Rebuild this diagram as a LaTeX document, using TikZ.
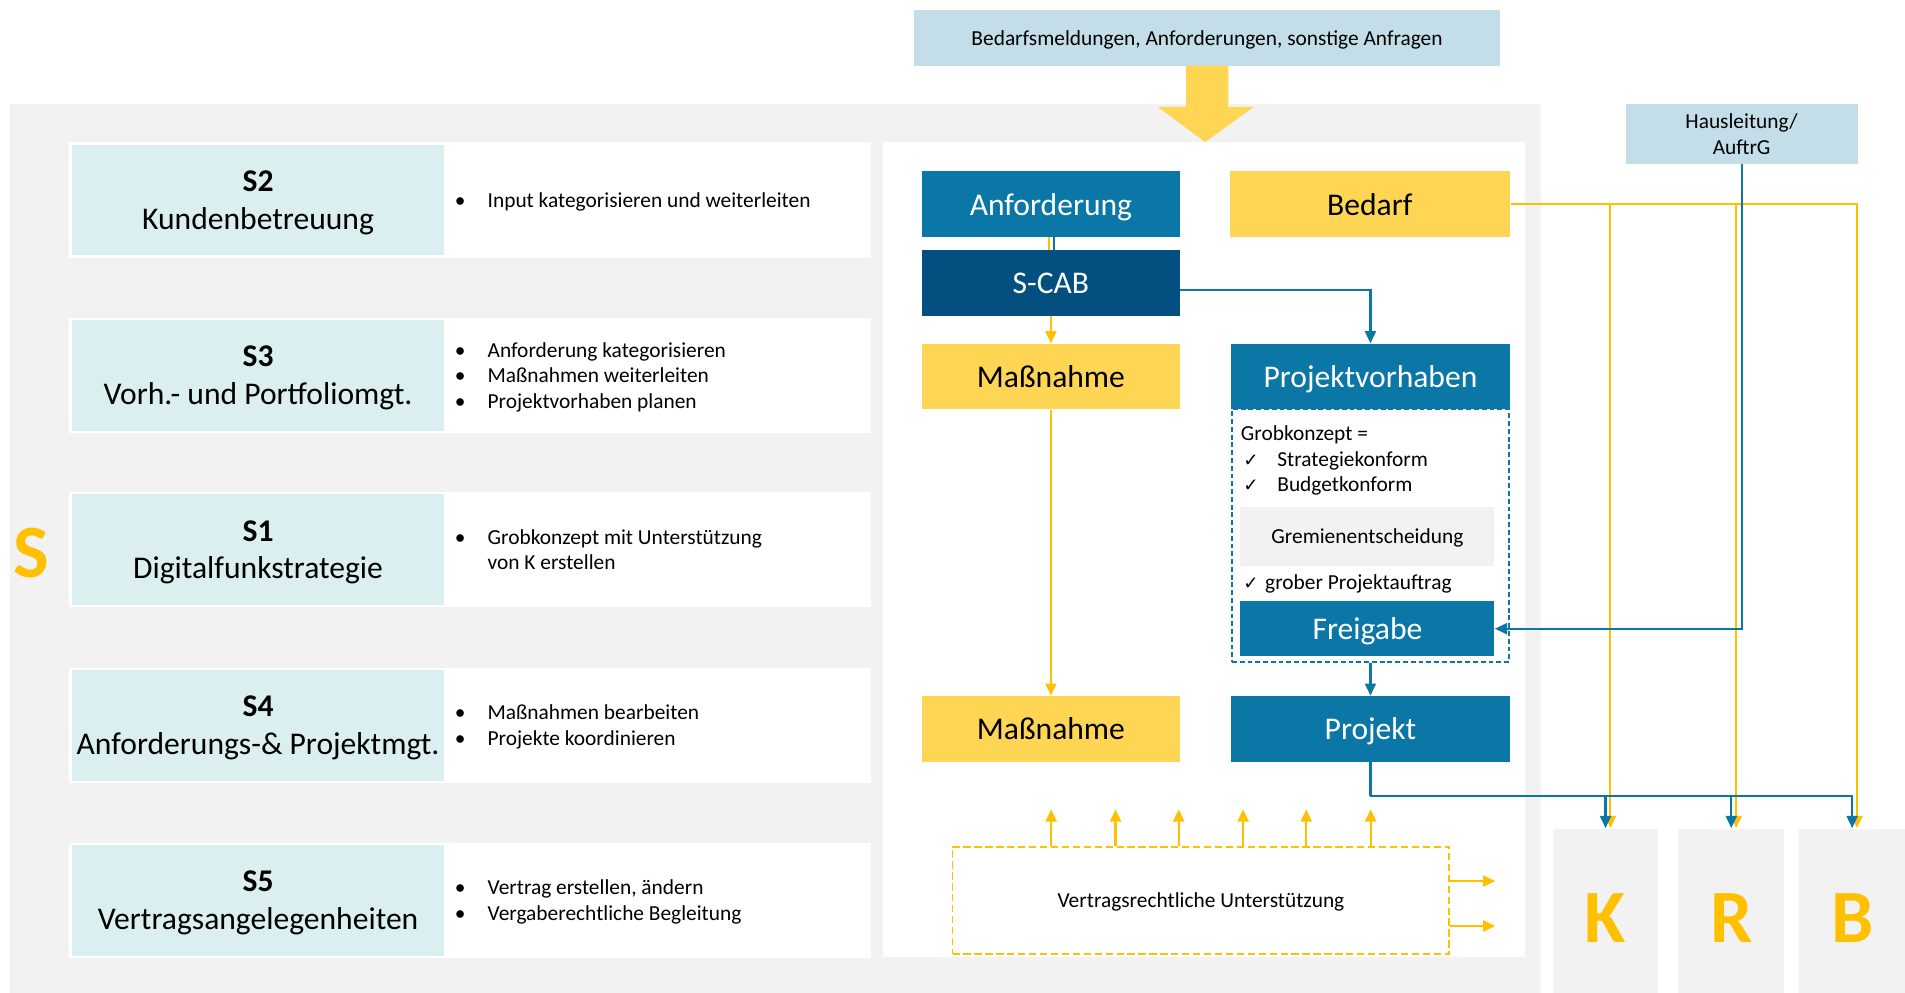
\documentclass[tikz,border=0pt]{standalone}
\usepackage{fontspec}
\setmainfont{Carlito}
\newfontfamily\checkfont{DejaVu Sans}
\usetikzlibrary{arrows.meta, positioning, calc}
\definecolor{bggray}{HTML}{F2F2F2}
\definecolor{lightblue}{HTML}{C3DEE8}
\definecolor{labteal}{HTML}{DBEEF0}
\definecolor{midblue}{HTML}{0A77A6}
\definecolor{darkblue}{HTML}{034F80}
\definecolor{boxyellow}{HTML}{FFD653}
\definecolor{lineyellow}{HTML}{FFC000}
\newcommand{\smalltxt}{\fontsize{8.8}{10.5}\selectfont}
\newcommand{\bigtxt}{\fontsize{13}{15.5}\selectfont}
\newcommand{\bul}[1]{\makebox[13.5pt][l]{\textbullet}#1}
\newcommand{\chk}{{\checkfont\fontsize{7.5}{9}\selectfont ✓}}
\tikzset{
    card/.style={fill=white, minimum width=330pt, minimum height=47.5pt, inner sep=0pt},
    labbox/.style={fill=labteal, minimum width=153pt, minimum height=45.5pt, inner sep=0pt, align=center, text depth=0pt, font=\bigtxt},
    desc/.style={anchor=west, align=left, inner sep=0pt, text depth=0pt, font=\smalltxt},
    flowbox/.style={minimum width=106pt, minimum height=27pt, inner sep=0pt, text depth=0pt, font=\bigtxt},
    bluebox/.style={flowbox, fill=midblue, text=white},
    yellowbox/.style={flowbox, fill=boxyellow},
    infobox/.style={fill=lightblue, inner sep=0pt, align=center, text depth=0pt, font=\smalltxt},
    unitbox/.style={fill=bggray, minimum width=43.5pt, minimum height=67.5pt, inner sep=0pt, text height=26pt, text depth=0pt, text=lineyellow, font=\fontsize{31}{31}\selectfont\bfseries},
    yline/.style={draw=lineyellow, line width=0.9pt},
    bline/.style={draw=midblue, line width=0.9pt},
    yarrow/.style={yline, -{Triangle[length=5pt, width=4.5pt]}},
    barrow/.style={bline, -{Triangle[length=5pt, width=4.5pt]}}
}

\begin{document}
\begin{tikzpicture}[x=0.5pt, y=-0.5pt]
    \useasboundingbox (0,0) rectangle (1568,817);
    % Grey frame S and white flow panel
    \fill[bggray] (8,86) rectangle (1268,817);
    \fill[white] (727,117) rectangle (1255,788);
    \node[text=lineyellow, font=\fontsize{31}{31}\selectfont\bfseries] (sbig) at (26,455) {S};
    % Rows S2 ... S5
    \foreach \ry/\rid/\rname/\rtext in {
        164.5/S2/Kundenbetreuung/{\bul{Input kategorisieren und weiterleiten}},
        309/S3/Vorh.- und Portfoliomgt./{\bul{Anforderung kategorisieren}\\\bul{Maßnahmen weiterleiten}\\\bul{Projektvorhaben planen}},
        452.5/S1/Digitalfunkstrategie/{\bul{Grobkonzept mit Unterstützung}\\\hspace*{13.5pt}von K erstellen},
        597/S4/Anforderungs-\& Projektmgt./{\bul{Maßnahmen bearbeiten}\\\bul{Projekte koordinieren}},
        741/S5/Vertragsangelegenheiten/{\bul{Vertrag erstellen, ändern}\\\bul{Vergaberechtliche Begleitung}}}{
        \node[card] (card\rid) at (387,\ry) {};
        \node[labbox, anchor=west] (lab\rid) at (59,\ry) {\textbf{\rid}\\\rname};
        \node[desc] (desc\rid) at (374,\ry) {\rtext};
    }
    % Incoming requests
    \node[infobox, minimum width=241.5pt, minimum height=23pt] (input) at (993.5,31) {Bedarfsmeldungen, Anforderungen, sonstige Anfragen};
    \fill[boxyellow] (976,54) -- (1011,54) -- (1011,88) -- (1032,88) -- (992,117) -- (953,88) -- (976,88) -- cycle;
    \node[infobox, minimum width=95.5pt, minimum height=24.5pt] (haus) at (1433.5,110.5) {Hausleitung/\\AuftrG};
    % Flow boxes
    \node[bluebox] (anf) at (865,168) {Anforderung};
    \node[yellowbox, minimum width=115.5pt] (bedarf) at (1127.5,168) {Bedarf};
    \node[bluebox, fill=darkblue] (scab) at (865,233) {S-CAB};
    \node[yellowbox] (mass1) at (865,310) {Maßnahme};
    \node[draw=midblue, dashed, dash pattern=on 2pt off 1.2pt, line width=0.6pt, minimum width=114pt, minimum height=104pt, inner sep=0pt] (grob) at (1128,441) {};
    \node[bluebox, minimum width=115pt] (projv) at (1128,310) {Projektvorhaben};
    \node[desc] (grobtxt) at (1021,377.5) {Grobkonzept =\\\makebox[15pt][l]{\hspace{1pt}\chk}Strategiekonform\\\makebox[15pt][l]{\hspace{1pt}\chk}Budgetkonform};
    \node[fill=bggray, minimum width=104.5pt, minimum height=24.5pt, inner sep=0pt, text depth=0pt, font=\smalltxt] (grem) at (1125.5,441.5) {Gremienentscheidung};
    \node[desc] (auftrag) at (1021,479) {\makebox[10pt][l]{\hspace{1pt}\chk}grober Projektauftrag};
    \node[bluebox, minimum width=104.5pt, minimum height=22.5pt] (frei) at (1125.5,517.5) {Freigabe};
    \node[yellowbox] (mass2) at (865,600) {Maßnahme};
    \node[bluebox, minimum width=115pt] (proj) at (1128,600) {Projekt};
    \node[draw=lineyellow, dashed, dash pattern=on 3pt off 1.5pt, line width=0.8pt, minimum width=204.5pt, minimum height=44pt, inner sep=0pt, text depth=0pt, font=\smalltxt] (vertrag) at (988.5,741) {Vertragsrechtliche Unterstützung};
    % K, R, B
    \node[unitbox] (kbox) at (1321.5,749.5) {K};
    \node[unitbox] (rbox) at (1425,749.5) {R};
    \node[unitbox] (bbox) at (1524.5,749.5) {B};
    % Connectors
    \draw[yline] ([xshift=-0.8pt]anf.south) -- ([xshift=-0.8pt]scab.north);
    \draw[bline] ([xshift=1.2pt]anf.south) -- ([xshift=1.2pt]scab.north);
    \draw[yarrow] (scab.south) -- (mass1.north);
    \draw[barrow] ([yshift=-3pt]scab.east) -| (projv.north);
    \draw[yarrow] (mass1.south) -- (mass2.north);
    \draw[barrow] (grob.south) -- (proj.north);
    \foreach \unit in {kbox, rbox, bbox}
        \draw[yarrow] (bedarf.east) -| ([xshift=2pt]\unit.north);
    \draw[barrow] (haus.south) |- (frei.east);
    \coordinate (projsplit) at ($(proj.south)+(0,28)$);
    \draw[bline] (proj.south) -- (projsplit);
    \foreach \unit in {kbox, rbox, bbox}
        \draw[barrow] (projsplit) -| (\unit.north);
    % Support arrows
    \foreach \off in {82,135,187,240,292,345}
        \draw[yarrow] ($(vertrag.north west)+(\off,0)$) -- ++(0,-30);
    \foreach \off in {29,66}
        \draw[yarrow] ($(vertrag.north east)+(0,\off)$) -- ++(37,0);
\end{tikzpicture}
\end{document}
